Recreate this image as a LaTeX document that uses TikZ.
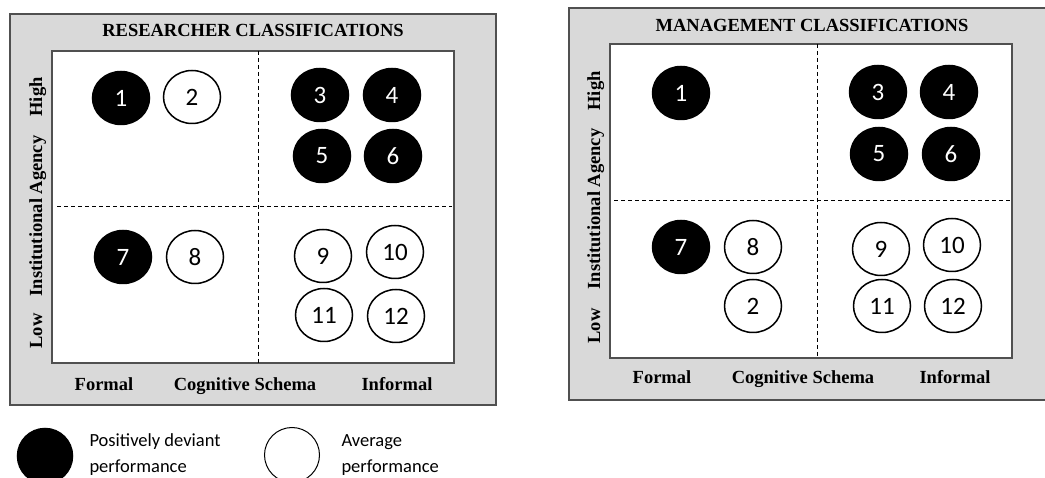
\documentclass[tikz,border=0pt]{standalone}
\usepackage{fontspec}
\setmainfont{Liberation Serif}
\newfontfamily\calib{Carlito}
\usepackage{tikz}
\usetikzlibrary{positioning,calc,shapes.geometric}
\definecolor{PanelGray}{RGB}{217,217,217}
\definecolor{EdgeGray}{RGB}{80,80,80}
\tikzset{
  panel/.style={draw=EdgeGray,line width=1.4pt,fill=PanelGray},
  grid/.style={draw=EdgeGray,line width=1.4pt,fill=white},
  divide/.style={black,line width=1pt,dash pattern=on 4pt off 3pt},
  ttl/.style={font=\fontsize{18.5}{21}\selectfont\bfseries,anchor=base},
  axlab/.style={font=\fontsize{18.5}{21}\selectfont\bfseries,anchor=base},
  ylab/.style={axlab,rotate=90},
  firm/.style={ellipse,draw=black,line width=1.5pt,minimum width=57pt,
               minimum height=53pt,inner sep=0pt,font=\calib\fontsize{25}{28}\selectfont},
  pd/.style={firm,fill=black,text=white},
  avg/.style={firm,fill=white,text=black},
  keytxt/.style={font=\calib\fontsize{18.5}{26}\selectfont,align=left,anchor=west},
}
\begin{document}
\begin{tikzpicture}[x=1pt,y=-1pt]
  \useasboundingbox (0,0) rectangle (1045,478);
  % researcher panel
  \draw[panel] (10,14) rectangle (496,405);
  \draw[grid] (52,51) rectangle (454,363);
  \draw[divide] (258,51) -- (258,363);
  \draw[divide] (57,207) -- (452,207);
  \node[ttl] (rtitle) at (253,37) {RESEARCHER CLASSIFICATIONS};
  \node[axlab] (rformal) at (104,391) {Formal};
  \node[axlab] (rschema) at (245,391) {Cognitive Schema};
  \node[axlab] (rinformal) at (397,391) {Informal};
  \node[ylab] (rhigh) at (42,97) {High};
  \node[ylab] (ragency) at (42,216) {Institutional Agency};
  \node[ylab] (rlow) at (42,331) {Low};
  \node[pd]  (r1) at (121,98) {1};
  \node[avg] (r2) at (192,97) {2};
  \node[pd]  (r3) at (320,95) {3};
  \node[pd]  (r4) at (392,95) {4};
  \node[pd]  (r5) at (322,156) {5};
  \node[pd]  (r6) at (393,156) {6};
  \node[pd]  (r7) at (123,257) {7};
  \node[avg] (r8) at (195,257) {8};
  \node[avg] (r9) at (323,256) {9};
  \node[avg] (r10) at (395,252) {10};
  \node[avg] (r11) at (324,315) {11};
  \node[avg] (r12) at (396,316) {12};
  % management panel
  \draw[panel] (569,8) rectangle (1050,400);
  \draw[grid] (610,44) rectangle (1012,358);
  \draw[divide] (817,44) -- (817,358);
  \draw[divide] (614,201) -- (1010,201);
  \node[ttl] (mtitle) at (812,32) {MANAGEMENT CLASSIFICATIONS};
  \node[axlab] (mformal) at (662,384) {Formal};
  \node[axlab] (mschema) at (803,384) {Cognitive Schema};
  \node[axlab] (minformal) at (955,384) {Informal};
  \node[ylab] (mhigh) at (600,91) {High};
  \node[ylab] (magency) at (600,209) {Institutional Agency};
  \node[ylab] (mlow) at (600,326) {Low};
  \node[pd]  (m1) at (681,93) {1};
  \node[pd]  (m3) at (878,92) {3};
  \node[pd]  (m4) at (949,92) {4};
  \node[pd]  (m5) at (879,154) {5};
  \node[pd]  (m6) at (951,154) {6};
  \node[pd]  (m7) at (681,247) {7};
  \node[avg] (m8) at (753,247) {8};
  \node[avg] (m2) at (753,306) {2};
  \node[avg] (m9) at (881,249) {9};
  \node[avg] (m10) at (952,245) {10};
  \node[avg] (m11) at (882,306) {11};
  \node[avg] (m12) at (953,306) {12};
  % legend
  \node[pd,minimum width=55pt,minimum height=55pt] (kpd) at (45,456) {};
  \node[keytxt] (kpdtxt) at (86,455) {Positively deviant\\performance};
  \node[avg,minimum width=55pt,minimum height=55pt,line width=1pt] (kavg) at (292,455) {};
  \node[keytxt] (kavgtxt) at (338,455) {Average\\performance};
\end{tikzpicture}
\end{document}
